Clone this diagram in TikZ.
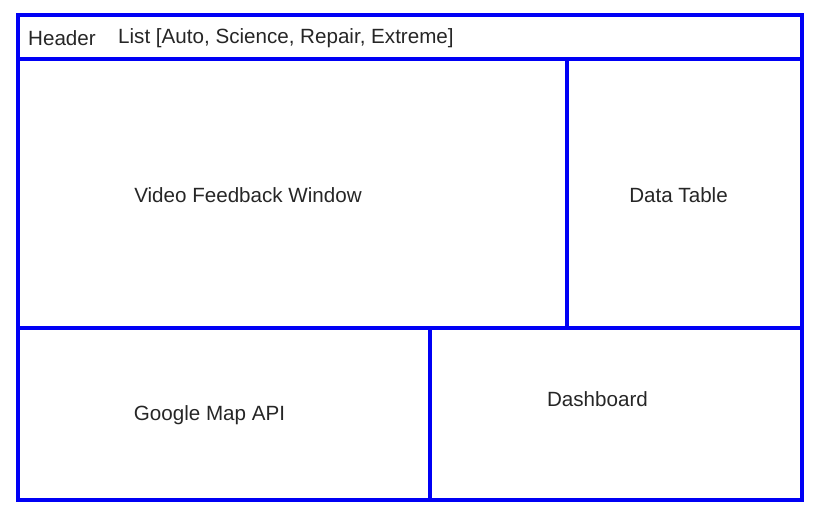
\documentclass[tikz,border=0pt]{standalone}
\usepackage{fontspec}
\setmainfont{Liberation Sans}
\definecolor{frameblue}{RGB}{0,0,245}
\begin{document}
\begin{tikzpicture}[x=1pt,y=-1pt,
  panel/.style={draw=frameblue,line width=4pt},
  lbl/.style={font=\fontsize{20.6}{23}\selectfont,inner sep=0pt,text=black!85}]
\useasboundingbox (0,0) rectangle (819,515);
% header bar
\draw[panel] (17.5,15) rectangle (801.5,58.5);
% main frame
\draw[panel] (17.5,58.5) rectangle (802,499.5);
\draw[panel] (567,58.5) -- (567,328);
\draw[panel] (17.5,328) -- (802,328);
\draw[panel] (429.5,328) -- (429.5,499.5);
% labels
\node[lbl,anchor=west] (hdr) at (28,38) {Header};
\node[lbl,anchor=west] (lst) at (118,38) {List [Auto, Science, Repair, Extreme]};
\node[lbl] (vid) at (248,195) {Video Feedback Window};
\node[lbl] (tbl) at (678.5,195) {Data Table};
\node[lbl] (map) at (209.5,415) {Google Map API};
\node[lbl] (dash) at (597.5,399) {Dashboard};
\end{tikzpicture}
\end{document}
